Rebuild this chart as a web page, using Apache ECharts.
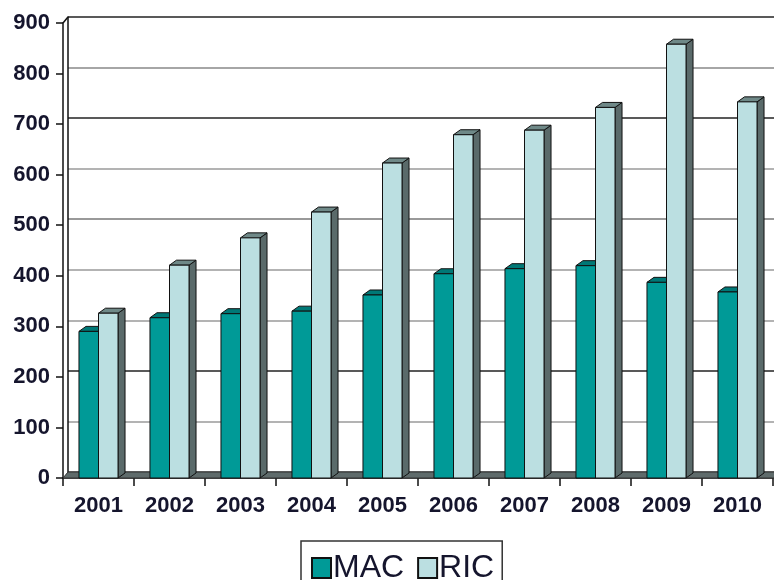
<!DOCTYPE html>
<html>
<head>
<meta charset="utf-8">
<script src="https://cdn.jsdelivr.net/npm/echarts@6/dist/echarts.min.js"></script>
<style>
  html, body { margin: 0; padding: 0; background: #fff; }
  #chart { width: 774px; height: 580px; }
</style>
</head>
<body>
<div id="chart"></div>
<script>
// Yearly totals, 2001-2010
const categories = ['2001', '2002', '2003', '2004', '2005', '2006', '2007', '2008', '2009', '2010'];
const macValues = [290, 317, 325, 330, 362, 404, 414, 420, 387, 368];
const ricValues = [326, 421, 475, 526, 623, 679, 688, 733, 858, 744];
const yTicks = [0, 100, 200, 300, 400, 500, 600, 700, 800, 900];

// Pseudo-3D geometry
const BAR_DX = 7, BAR_DY = 5;     // bar depth
const WALL_DX = 5, WALL_DY = 6;   // floor / back wall depth
const BAR_FRAC = 0.275;           // bar width as share of a category band

const FRONT = { left: 63, top: 23, width: 710, height: 455 };

const textColor = '#15152d';
const fontFamily = '"Liberation Sans", Arial, sans-serif';

const palette = {
  MAC: { front: '#009a97', top: '#007876', side: '#4f6464' },
  RIC: { front: '#bbdfe1', top: '#6f8988', side: '#5a6a6a' }
};

// Gridline shades on the back wall (one per tick, 0 to 900)
const gridShades = ['#555', '#9a9a9a', '#222', '#9a9a9a', '#9a9a9a', '#777', '#9a9a9a', '#222', '#888', '#222'];

function barRenderer(seriesName, slot) {
  const c = palette[seriesName];
  return function (params, api) {
    const idx = api.value(0);
    const v = api.value(1);
    const top = api.coord([idx, v]);
    const base = api.coord([idx, 0]);
    const band = api.size([1, 0])[0];
    const w = band * BAR_FRAC;
    const x0 = slot === 0 ? top[0] - w : top[0];
    const x1 = x0 + w;
    const yt = top[1], yb = base[1];
    const stroke = { stroke: '#111', lineWidth: 1 };
    return {
      type: 'group',
      children: [
        {
          type: 'polygon',
          shape: { points: [[x1, yt], [x1 + BAR_DX, yt - BAR_DY], [x1 + BAR_DX, yb - BAR_DY], [x1, yb]] },
          style: Object.assign({ fill: c.side }, stroke)
        },
        {
          type: 'polygon',
          shape: { points: [[x0, yt], [x0 + BAR_DX, yt - BAR_DY], [x1 + BAR_DX, yt - BAR_DY], [x1, yt]] },
          style: Object.assign({ fill: c.top }, stroke)
        },
        {
          type: 'rect',
          shape: { x: x0, y: yt, width: w, height: yb - yt },
          style: Object.assign({ fill: c.front }, stroke)
        }
      ]
    };
  };
}

// Floor strip and the top-left corner of the back wall
function floorRenderer(params, api) {
  const cs = params.coordSys;
  const x = cs.x, y = cs.y, w = cs.width, h = cs.height;
  return {
    type: 'group',
    children: [
      {
        type: 'polygon',
        shape: { points: [[x, y + h], [x + w + 20, y + h], [x + w + 20 + WALL_DX, y + h - WALL_DY], [x + WALL_DX, y + h - WALL_DY]] },
        style: { fill: '#5f6b6b', stroke: '#333', lineWidth: 1 }
      },
      {
        type: 'line',
        shape: { x1: x, y1: y, x2: x + WALL_DX, y2: y - WALL_DY },
        style: { stroke: '#111', lineWidth: 1.5 }
      }
    ]
  };
}

const chart = echarts.init(document.getElementById('chart'), null, { renderer: 'canvas' });

chart.setOption({
  animation: false,
  backgroundColor: '#ffffff',
  grid: [
    { left: FRONT.left, top: FRONT.top, width: FRONT.width, height: FRONT.height },
    { left: FRONT.left + WALL_DX, top: FRONT.top - WALL_DY, width: FRONT.width + 20, height: FRONT.height }
  ],
  xAxis: [
    {
      type: 'category',
      gridIndex: 0,
      data: categories,
      boundaryGap: true,
      axisLine: { show: true, lineStyle: { color: '#111', width: 1.5 } },
      axisTick: { show: true, length: 8, interval: 0, lineStyle: { color: '#111', width: 1.5 } },
      axisLabel: { margin: 17, interval: 0, color: textColor, fontSize: 22, fontWeight: 'bold', fontFamily: fontFamily },
      splitLine: { show: false }
    },
    {
      type: 'category',
      gridIndex: 1,
      data: categories,
      show: false
    }
  ],
  yAxis: [
    {
      type: 'value',
      gridIndex: 0,
      min: yTicks[0],
      max: yTicks[yTicks.length - 1],
      interval: 100,
      axisLine: { show: true, lineStyle: { color: '#111', width: 1.5 } },
      axisTick: { show: true, length: 7, lineStyle: { color: '#111', width: 1.5 } },
      axisLabel: { margin: 13, color: textColor, fontSize: 22, fontWeight: 'bold', fontFamily: fontFamily },
      splitLine: { show: false }
    },
    {
      type: 'value',
      gridIndex: 1,
      min: yTicks[0],
      max: yTicks[yTicks.length - 1],
      interval: 100,
      axisLine: { show: true, lineStyle: { color: '#111', width: 1.5 } },
      axisTick: { show: false },
      axisLabel: { show: false },
      splitLine: { show: true, lineStyle: { color: gridShades, width: 1.5 } }
    }
  ],
  legend: {
    data: ['MAC', 'RIC'],
    left: 301,
    top: 541,
    orient: 'horizontal',
    icon: 'rect',
    itemWidth: 19,
    itemHeight: 20,
    itemGap: 13,
    padding: [11, 8, 12, 10],
    borderColor: '#333',
    borderWidth: 1.5,
    textStyle: { color: textColor, fontSize: 32, fontFamily: fontFamily, padding: [0, 0, 0, -3] }
  },
  series: [
    {
      type: 'custom',
      name: 'floor',
      xAxisIndex: 0,
      yAxisIndex: 0,
      z: 1,
      clip: false,
      silent: true,
      data: [[0, 0]],
      renderItem: floorRenderer
    },
    {
      type: 'custom',
      name: 'MAC',
      xAxisIndex: 0,
      yAxisIndex: 0,
      z: 3,
      clip: false,
      itemStyle: { color: palette.MAC.front, borderColor: '#111', borderWidth: 1.5 },
      encode: { x: 0, y: 1 },
      data: macValues.map((v, i) => [i, v]),
      renderItem: barRenderer('MAC', 0)
    },
    {
      type: 'custom',
      name: 'RIC',
      xAxisIndex: 0,
      yAxisIndex: 0,
      z: 4,
      clip: false,
      itemStyle: { color: palette.RIC.front, borderColor: '#111', borderWidth: 1.5 },
      encode: { x: 0, y: 1 },
      data: ricValues.map((v, i) => [i, v]),
      renderItem: barRenderer('RIC', 1)
    }
  ]
});
</script>
</body>
</html>
